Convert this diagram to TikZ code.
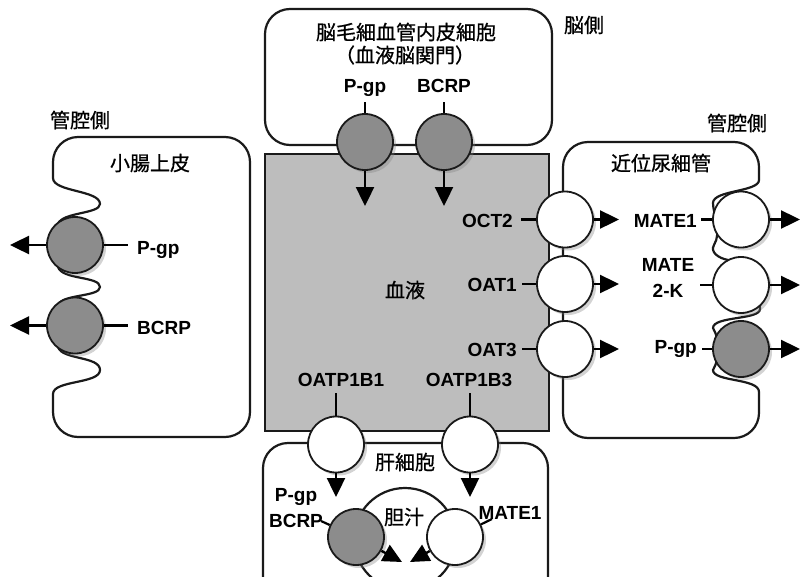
\documentclass[tikz,border=0pt]{standalone}
\usepackage{fontspec}
\setmainfont{Liberation Sans}
\newfontfamily\jpf[FakeBold=0.8]{Noto Sans CJK JP}
\usetikzlibrary{shadows,arrows.meta}
\definecolor{bloodgray}{HTML}{BDBDBD}
\definecolor{tgray}{HTML}{8C8C8C}
\definecolor{edge}{HTML}{1A1A1A}
\begin{document}
\begin{tikzpicture}[x=1pt,y=-1pt,
  cell/.style={draw=edge,line width=2.2pt,rounded corners=25pt},
  wave/.style={draw=edge,line width=2.2pt},
  tp/.style={circle,minimum size=56pt,inner sep=0pt,draw=edge,line width=1.8pt,
    drop shadow={shadow xshift=3pt,shadow yshift=-3pt,opacity=0.35}},
  tpw/.style={tp,fill=white},
  tpg/.style={tp,fill=tgray},
  lab/.style={font=\bfseries\fontsize{19}{26}\selectfont,inner sep=0pt,text height=13.6pt,text depth=0pt},
  jp/.style={font=\jpf\fontsize{20}{23}\selectfont,inner sep=0pt},
  arr/.style={line width=2.4pt,-{Triangle[length=19pt,width=18pt]}},
  tick/.style={line width=2.2pt},
]
\useasboundingbox (0,0) rectangle (801,576);
\clip (0,0) rectangle (801,576);

% cells
\node[cell,minimum width=287pt,minimum height=136pt] (brain) at (408.5,77) {};
\node[draw=edge,fill=bloodgray,line width=2pt,minimum width=284pt,minimum height=277pt,inner sep=0pt] (blood) at (407,292.5) {};
\draw[cell] (263,600) -- (263,443) -- (548,443) -- (548,600);
\draw[cell] (53,412) -- (53,437) -- (250,437) -- (250,137) -- (53,137) -- (53,165);
\draw[wave] (53,165) -- (53,178) .. controls (53,192) and (100,190) .. (100,204)
  .. controls (100,214) and (62,212) .. (58,224)
  .. controls (62,236) and (62,256) .. (58,267)
  .. controls (62,280) and (100,276) .. (100,287)
  .. controls (100,297) and (62,294) .. (58,305)
  .. controls (62,317) and (62,337) .. (58,347)
  .. controls (62,360) and (100,356) .. (100,370)
  .. controls (100,384) and (53,380) .. (53,394) -- (53,412);
\draw[cell] (759,412) -- (759,438) -- (563,438) -- (563,142) -- (759,142) -- (759,167);
\draw[wave] (759,167) -- (759,180) .. controls (759,192) and (713,190) .. (713,203)
  .. controls (713,214) and (722,232) .. (714,245)
  .. controls (710,252) and (718,258) .. (728,260)
  .. controls (745,275) and (760,295) .. (760,309)
  .. controls (760,320) and (713,316) .. (713,328)
  .. controls (720,340) and (720,358) .. (713,370)
  .. controls (713,382) and (759,378) .. (759,392) -- (759,412);
\node[circle,draw=edge,line width=2.2pt,minimum size=102pt,inner sep=0pt] (bile) at (405,539) {};

% transporters
\node[tpg] (cT1) at (365,142) {};
\node[tpg] (cT2) at (444,142) {};
\node[tpg] (cL1) at (75,245) {};
\node[tpg] (cL2) at (75,325.5) {};
\node[tpw] (cO1) at (565,219.5) {};
\node[tpw] (cO2) at (565,284) {};
\node[tpw] (cO3) at (565,349) {};
\node[tpw] (cR1) at (741,219.5) {};
\node[tpw] (cR2) at (741,285) {};
\node[tpg] (cR3) at (741,349) {};
\node[tpw] (cB1) at (336,444.5) {};
\node[tpw] (cB2) at (470,444.5) {};
\node[tpg] (cLv1) at (356,537) {};
\node[tpw] (cLv2) at (455,537) {};

% labels
\node[lab] (tT1) at (365,86) {P-gp};
\node[lab] (tT2) at (444,86) {BCRP};
\node[lab,anchor=west] (tL1) at (137,248) {P-gp};
\node[lab,anchor=west] (tL2) at (137,328) {BCRP};
\node[lab,anchor=east] (tO1) at (513,221) {OCT2};
\node[lab,anchor=east] (tO2) at (517,285) {OAT1};
\node[lab,anchor=east] (tO3) at (517,349.5) {OAT3};
\node[lab,anchor=east] (tR1) at (697,221) {MATE1};
\node[lab,align=center] (tR2) at (668,291) {MATE\\2-K};
\node[lab,anchor=east] (tR3) at (697,347) {P-gp};
\node[lab] (tB1) at (341,380) {OATP1B1};
\node[lab] (tB2) at (469,380) {OATP1B3};
\node[lab,align=center] (tLv1) at (296,521) {P-gp\\BCRP};
\node[lab] (tLv2) at (510,513) {MATE1};

% ticks
\draw[tick,shorten <=9pt] (tT1) -- (cT1);
\draw[tick,shorten <=9pt] (tT2) -- (cT2);
\draw[tick,shorten >=9pt] (cL1.east) -- (cL1.east -| tL1.west);
\draw[tick,shorten >=9pt] (cL2.east) -- (cL2.east -| tL2.west);
\draw[tick,shorten >=8pt] (cO1.west) -- (cO1.west -| tO1.east);
\draw[tick,shorten >=5pt] (cO2.west) -- (cO2.west -| tO2.east);
\draw[tick,shorten >=5pt] (cO3.west) -- (cO3.west -| tO3.east);
\draw[tick,shorten >=4pt] (cR1.west) -- (cR1.west -| tR1.east);
\draw[tick,shorten >=6pt] (cR2.west) -- (cR2.west -| tR2.east);
\draw[tick,shorten >=5pt] (cR3.west) -- (cR3.west -| tR3.east);
\draw[tick,shorten <=6pt] (tB1.south -| cB1.north) -- (cB1.north);
\draw[tick,shorten <=6pt] (tB2.south -| cB2.north) -- (cB2.north);
\coordinate (kLv1) at (321,521);
\coordinate (kLv2) at (492,519);
\draw[tick] (kLv1) -- (cLv1);
\draw[tick] (cLv2) -- (kLv2);

% arrows
\coordinate (aT1) at (365,206);
\coordinate (aT2) at (444,206);
\coordinate (aL1) at (10,245);
\coordinate (aL2) at (10,325.5);
\coordinate (aO1) at (619,219.5);
\coordinate (aO2) at (619,284);
\coordinate (aO3) at (619,349);
\coordinate (aR1) at (800,219.5);
\coordinate (aR2) at (800,285);
\coordinate (aR3) at (800,349);
\coordinate (aB1) at (336,497);
\coordinate (aB2) at (470,497);
\coordinate (aLv1) at (402,562);
\coordinate (aLv2) at (410,562);
\foreach \s in {T1,T2,L1,L2,O1,O2,O3,R1,R2,R3,B1,B2,Lv1,Lv2}{\draw[arr] (c\s) -- (a\s);}

% texts
\node[jp] (jBrain1) at (406,32) {脳毛細血管内皮細胞};
\node[jp] (jBrain2) at (405,55) {（血液脳関門）};
\node[jp] (jBrainSide) at (584,25) {脳側};
\node[jp] (jLumL) at (80,120) {管腔側};
\node[jp] (jLumR) at (737,123) {管腔側};
\node[jp] (jInt) at (150,163) {小腸上皮};
\node[jp] (jKid) at (661,163) {近位尿細管};
\node[jp] (jBlood) at (405,290) {血液};
\node[jp] (jLiver) at (405,462) {肝細胞};
\node[jp] (jBile) at (404,517) {胆汁};
\end{tikzpicture}
\end{document}
